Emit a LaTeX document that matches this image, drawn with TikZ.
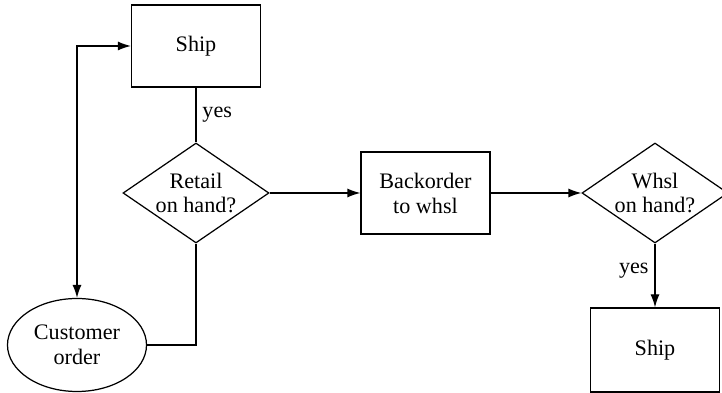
\documentclass[tikz,border=0pt]{standalone}
\usepackage{fontspec}
\setmainfont{Liberation Serif}
\usetikzlibrary{arrows.meta,shapes,positioning}

\begin{document}
\begin{tikzpicture}[scale=1.0,>={Latex[length=2.6mm,width=1.8mm]},line width=0.7pt,
  font=\fontsize{12.6}{14.2}\selectfont,
  boxnode/.style={draw,rectangle,align=center,minimum width=2.58cm,minimum height=1.64cm},
  decide/.style={draw,diamond,align=center,aspect=1.46,inner sep=0pt,minimum width=2.92cm,minimum height=2.0cm}]
  \useasboundingbox (0.0,0.0) rectangle (14.44,7.86); %Frame
  \clip (0.0,0.0) rectangle (14.44,7.86);

  \node[boxnode] (ship) at (3.92,6.94) {Ship} ;              %Retail ship
  \node[decide] (retail) at (3.92,4.00) {Retail\\on hand?} ;  %Retail test
  \node[draw,ellipse,align=center,minimum width=2.78cm,minimum height=1.86cm]
    (order) at (1.54,0.96) {Customer\\order} ;                %Customer order
  \node[boxnode] (backorder) at (8.51,4.00) {Backorder\\to whsl} ;
  \node[decide] (whsl) at (13.10,4.00) {Whsl\\on hand?} ;    %Wholesale test
  \node[boxnode,minimum height=1.68cm] (shipw) at (13.10,0.86) {Ship} ;

  \draw[<->] (order.north) |- (ship.west) ;
  \draw (ship.south) -- node[right]{yes} (retail.north) ;
  \draw (order.east) -| (retail.south) ;
  \draw[->] (retail.east) -- (backorder.west) ;
  \draw[->] (backorder.east) -- (whsl.west) ;
  \draw[->] (whsl.south) -- node[left,pos=0.42]{yes} (shipw.north) ;
\end{tikzpicture}
\end{document}
